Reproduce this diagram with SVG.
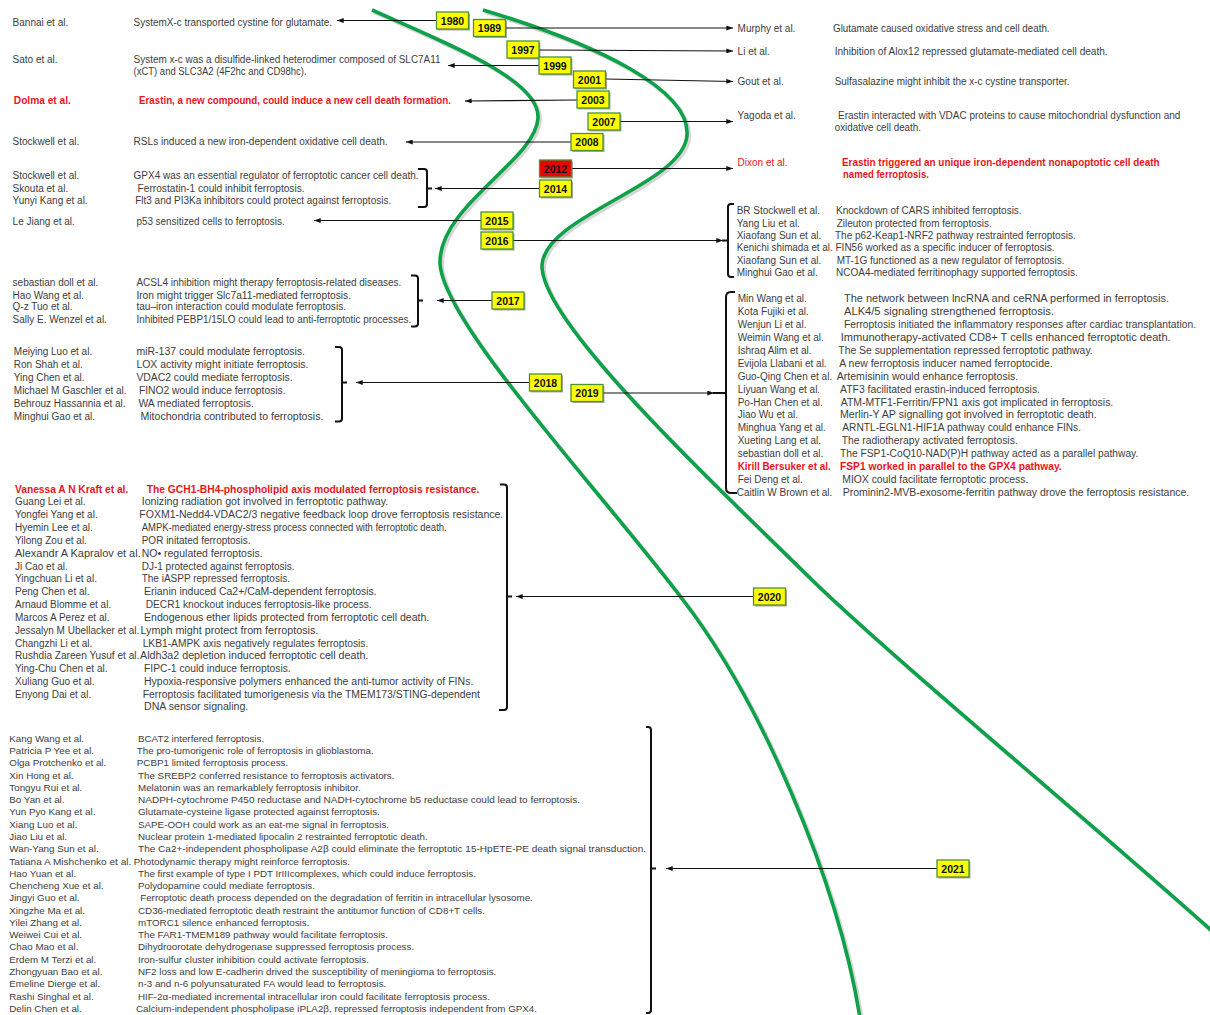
<svg xmlns="http://www.w3.org/2000/svg" width="1210" height="1015" viewBox="0 0 1210 1015">
<defs>
<style>
text{font-family:"Liberation Sans",Arial,sans-serif;font-size:10px;fill:#3d3d3d}
.r{fill:#e8151d;font-weight:bold}
.rn{fill:#e8151d}
.s{font-size:9.8px}
.m{font-size:10px}
.yt{font-weight:bold;font-size:10.5px;fill:#111;text-anchor:middle}
.box{fill:#ffff00;stroke:#4e8f3a;stroke-width:1.3}
.red{fill:#ee0000;stroke:#4e8f3a;stroke-width:1.3}
.sh{fill:#555;opacity:.5}
.ln{stroke:#111;stroke-width:1.2;fill:none;marker-end:url(#ah)}
.br{stroke:#111;stroke-width:2;fill:none}
.g{stroke:#0fa14a;stroke-width:3.6;fill:none}
.gs{stroke:#999;stroke-width:4;fill:none;opacity:.4}
</style>
<marker id="ah" viewBox="0 0 8 6" refX="8" refY="3" markerWidth="7" markerHeight="5" markerUnits="userSpaceOnUse" orient="auto"><path d="M0,0 L8,3 L0,6 z" fill="#111"/></marker>
</defs>
<rect width="1210" height="1015" fill="#fff"/>

<g id="curves">
<path class="gs" transform="translate(2,2)" d="M372,10 C450,45 540,80 538,118 C536,160 440,205 440,262 C440,320 600,490 683,600 C760,700 838,880 860,1018"/>
<path class="gs" transform="translate(2,2)" d="M483,10 C600,45 690,90 687,135 C684,185 545,215 542,265 C540,320 700,470 812,580 C900,665 1100,830 1222,940"/>
<path class="g" d="M372,10 C450,45 540,80 538,118 C536,160 440,205 440,262 C440,320 600,490 683,600 C760,700 838,880 860,1018"/>
<path class="g" d="M483,10 C600,45 690,90 687,135 C684,185 545,215 542,265 C540,320 700,470 812,580 C900,665 1100,830 1222,940"/>
</g>

<g id="connectors">
<path class="ln" d="M436.5,20.5 H337"/>
<path class="ln" d="M505.5,28 H733"/>
<path class="ln" d="M539,50 L733,51"/>
<path class="ln" d="M539,65.5 H448"/>
<path class="ln" d="M605.5,79 L733,81.5"/>
<path class="ln" d="M577,100 L465,101"/>
<path class="ln" d="M620,121.5 H733"/>
<path class="ln" d="M571,142 H406"/>
<path class="ln" d="M571.5,168.5 H733"/>
<path class="ln" d="M539.5,188.5 H435"/>
<path class="ln" d="M481,220.5 H314"/>
<path class="ln" d="M513,240.5 H723"/>
<path class="ln" d="M492,300.5 H437"/>
<path class="ln" d="M529.5,382.5 H356"/>
<path class="ln" d="M603,393 H714"/>
<path class="ln" d="M753.5,596.5 H516"/>
<path class="ln" d="M937,868.5 H666"/>
<path class="br" d="M418,169 H424 Q427,169 427,172 V204 Q427,207 424,207 H418 M427,188.5 H432"/>
<path class="br" d="M411,275.5 H415 Q418,275.5 418,278.5 V323.5 Q418,326.5 415,326.5 H411 M418,300.5 H423"/>
<path class="br" d="M335,347 H339 Q342,347 342,350 V418.5 Q342,421.5 339,421.5 H335 M342,382.5 H347"/>
<path class="br" d="M734,204 H731 Q728,204 728,207 V274 Q728,277 731,277 H734 M722,240.5 H728"/>
<path class="br" d="M735,292 H731 Q726,292 726,297 V488 Q726,493 731,493 H737 M713,393 H726"/>
<path class="br" d="M500,484.5 H504 Q507,484.5 507,487.5 V707 Q507,710 504,710 H499 M507,596.5 H512"/>
<path class="br" d="M646,727 H648 Q651,727 651,730 V1010 Q651,1013 648,1013 H646 M651,868.5 H656"/>
</g>

<g id="y1980"><rect class="sh" x="438" y="13.5" width="32" height="17"/><rect class="box" x="436.5" y="12" width="32" height="17"/><text class="yt" x="452.5" y="24.5">1980</text></g>
<g id="y1989"><rect class="sh" x="475" y="21" width="32" height="17"/><rect class="box" x="473.5" y="19.5" width="32" height="17"/><text class="yt" x="489.5" y="32">1989</text></g>
<g id="y1997"><rect class="sh" x="508.5" y="42.5" width="32" height="17"/><rect class="box" x="507" y="41" width="32" height="17"/><text class="yt" x="523" y="53.5">1997</text></g>
<g id="y1999"><rect class="sh" x="540.5" y="58.5" width="32" height="17"/><rect class="box" x="539" y="57" width="32" height="17"/><text class="yt" x="555" y="69.5">1999</text></g>
<g id="y2001"><rect class="sh" x="575" y="72.5" width="32" height="17"/><rect class="box" x="573.5" y="71" width="32" height="17"/><text class="yt" x="589.5" y="83.5">2001</text></g>
<g id="y2003"><rect class="sh" x="578.5" y="92.5" width="32" height="17"/><rect class="box" x="577" y="91" width="32" height="17"/><text class="yt" x="593" y="103.5">2003</text></g>
<g id="y2007"><rect class="sh" x="589.5" y="114.5" width="32" height="17"/><rect class="box" x="588" y="113" width="32" height="17"/><text class="yt" x="604" y="125.5">2007</text></g>
<g id="y2008"><rect class="sh" x="572.5" y="135" width="32" height="17"/><rect class="box" x="571" y="133.5" width="32" height="17"/><text class="yt" x="587" y="146">2008</text></g>
<g id="y2012"><rect class="sh" x="541" y="161.5" width="32" height="17"/><rect class="red" x="539.5" y="160" width="32" height="17"/><text class="yt" x="555.5" y="172.5">2012</text></g>
<g id="y2014"><rect class="sh" x="541" y="181.5" width="32" height="17"/><rect class="box" x="539.5" y="180" width="32" height="17"/><text class="yt" x="555.5" y="192.5">2014</text></g>
<g id="y2015"><rect class="sh" x="482.5" y="213.5" width="32" height="17"/><rect class="box" x="481" y="212" width="32" height="17"/><text class="yt" x="497" y="224.5">2015</text></g>
<g id="y2016"><rect class="sh" x="482.5" y="233.5" width="32" height="17"/><rect class="box" x="481" y="232" width="32" height="17"/><text class="yt" x="497" y="244.5">2016</text></g>
<g id="y2017"><rect class="sh" x="493.5" y="293.5" width="32" height="17"/><rect class="box" x="492" y="292" width="32" height="17"/><text class="yt" x="508" y="304.5">2017</text></g>
<g id="y2018"><rect class="sh" x="531" y="375.5" width="32" height="17"/><rect class="box" x="529.5" y="374" width="32" height="17"/><text class="yt" x="545.5" y="386.5">2018</text></g>
<g id="y2019"><rect class="sh" x="572.5" y="386" width="32" height="17"/><rect class="box" x="571" y="384.5" width="32" height="17"/><text class="yt" x="587" y="397">2019</text></g>
<g id="y2020"><rect class="sh" x="755" y="589.5" width="32" height="17"/><rect class="box" x="753.5" y="588" width="32" height="17"/><text class="yt" x="769.5" y="600.5">2020</text></g>
<g id="y2021"><rect class="sh" x="938.5" y="861.5" width="32" height="17"/><rect class="box" x="937" y="860" width="32" height="17"/><text class="yt" x="953" y="872.5">2021</text></g>

<g id="e1980"><text x="12.6" y="26">Bannai et al.</text><text x="133.6" y="26" textLength="198.5" lengthAdjust="spacingAndGlyphs">SystemX-c transported cystine for glutamate.</text></g>
<g id="e1989"><text x="737.6" y="31.8">Murphy et al.</text><text x="833" y="31.8" textLength="216.6" lengthAdjust="spacingAndGlyphs">Glutamate caused oxidative stress and cell death.</text></g>
<g id="e1997"><text x="737.6" y="55.2">Li et al.</text><text x="834.7" y="55.2" textLength="273" lengthAdjust="spacingAndGlyphs">Inhibition of Alox12 repressed glutamate-mediated cell death.</text></g>
<g id="e1999"><text x="12.6" y="63">Sato et al.</text><text x="133.6" y="63" textLength="307" lengthAdjust="spacingAndGlyphs">System x-c was a disulfide-linked heterodimer composed of SLC7A11</text><text x="133.6" y="75" textLength="173" lengthAdjust="spacingAndGlyphs">(xCT) and SLC3A2 (4F2hc and CD98hc).</text></g>
<g id="e2001"><text x="737.6" y="85.2">Gout et al.</text><text x="834.7" y="85.2" textLength="234.8" lengthAdjust="spacingAndGlyphs">Sulfasalazine might inhibit the x-c cystine transporter.</text></g>
<g id="e2003"><text class="r" x="13.8" y="104.2" textLength="57" lengthAdjust="spacingAndGlyphs">Dolma et al.</text><text class="r" x="139" y="104.2" textLength="312" lengthAdjust="spacingAndGlyphs">Erastin, a new compound, could induce a new cell death formation.</text></g>
<g id="e2007"><text x="737.6" y="118.5">Yagoda et al.</text><text x="838" y="118.5" textLength="342.3" lengthAdjust="spacingAndGlyphs">Erastin interacted with VDAC proteins to cause mitochondrial dysfunction and</text><text x="834.7" y="130.8" textLength="86.3" lengthAdjust="spacingAndGlyphs">oxidative cell death.</text></g>
<g id="e2008"><text x="12.6" y="145.2">Stockwell et al.</text><text x="133.6" y="145.2" textLength="254" lengthAdjust="spacingAndGlyphs">RSLs induced a new iron-dependent oxidative cell death.</text></g>
<g id="e2012"><text class="rn" x="737.6" y="166.2">Dixon et al.</text><text class="r" x="842" y="166.2" textLength="317.6" lengthAdjust="spacingAndGlyphs">Erastin triggered an unique iron-dependent nonapoptotic cell death</text><text class="r" x="843" y="177.8" textLength="86" lengthAdjust="spacingAndGlyphs">named ferroptosis.</text></g>
<g id="e2014"><text x="12.6" y="178.5">Stockwell et al.</text><text x="133.6" y="178.5" textLength="285" lengthAdjust="spacingAndGlyphs">GPX4 was an essential regulator of ferroptotic cancer cell death.</text><text x="12.6" y="191.8">Skouta et al.</text><text x="137.6" y="191.8" textLength="167" lengthAdjust="spacingAndGlyphs">Ferrostatin-1 could inhibit ferroptosis.</text><text x="12.6" y="204.2">Yunyi Kang et al.</text><text x="135.2" y="204.2" textLength="256" lengthAdjust="spacingAndGlyphs">Flt3 and PI3Ka inhibitors could protect against ferroptosis.</text></g>
<g id="e2015"><text x="12.6" y="225.2">Le Jiang et al.</text><text x="136.4" y="225.2" textLength="148.3" lengthAdjust="spacingAndGlyphs">p53 sensitized cells to ferroptosis.</text></g>
<g id="e2016">
<text class="m" x="736.7" y="214.2">BR Stockwell et al.</text><text class="m" x="836" y="214.2">Knockdown of CARS inhibited ferroptosis.</text>
<text class="m" x="736.7" y="226.6">Yang Liu et al.</text><text class="m" x="836.7" y="226.6">Zileuton protected from ferroptosis.</text>
<text class="m" x="736.7" y="239">Xiaofang Sun et al.</text><text class="m" x="835" y="239">The p62-Keap1-NRF2 pathway restrainted ferroptosis.</text>
<text class="m" x="736.7" y="251.4" textLength="96" lengthAdjust="spacingAndGlyphs">Kenichi shimada et al.</text><text class="m" x="835.5" y="251.4">FIN56 worked as a specific inducer of ferroptosis.</text>
<text class="m" x="736.7" y="263.8">Xiaofang Sun et al.</text><text class="m" x="836.7" y="263.8">MT-1G functioned as a new regulator of ferroptosis.</text>
<text class="m" x="736.7" y="276.2">Minghui Gao et al.</text><text class="m" x="836" y="276.2">NCOA4-mediated ferritinophagy supported ferroptosis.</text>
</g>
<g id="e2017">
<text x="12.6" y="286.2">sebastian doll et al.</text><text x="136.4" y="286.2" textLength="265" lengthAdjust="spacingAndGlyphs">ACSL4 inhibition might therapy ferroptosis-related diseases.</text>
<text x="12.6" y="298.5">Hao Wang et al.</text><text x="136.4" y="298.5" textLength="214.6" lengthAdjust="spacingAndGlyphs">Iron might trigger Slc7a11-mediated ferroptosis.</text>
<text x="12.6" y="310.2">Q-z Tuo et al.</text><text x="136.4" y="310.2" textLength="209.6" lengthAdjust="spacingAndGlyphs">tau–iron interaction could modulate ferroptosis.</text>
<text x="12.6" y="322.8">Sally E. Wenzel et al.</text><text x="136.4" y="322.8" textLength="274.8" lengthAdjust="spacingAndGlyphs">Inhibited PEBP1/15LO could lead to anti-ferroptotic processes.</text>
</g>
<g id="e2018">
<text x="13.8" y="355.2">Meiying Luo et al.</text><text x="136.4" y="355.2" textLength="168.6" lengthAdjust="spacingAndGlyphs">miR-137 could modulate ferroptosis.</text>
<text x="13.8" y="367.5">Ron Shah et al.</text><text x="136.4" y="367.5" textLength="172" lengthAdjust="spacingAndGlyphs">LOX activity might initiate ferroptosis.</text>
<text x="13.8" y="380.8">Ying Chen et al.</text><text x="136.4" y="380.8" textLength="156.2" lengthAdjust="spacingAndGlyphs">VDAC2 could mediate ferroptosis.</text>
<text x="13.8" y="393.5">Michael M Gaschler et al.</text><text x="139" y="393.5" textLength="146.5" lengthAdjust="spacingAndGlyphs">FINO2 would induce ferroptosis.</text>
<text x="13.8" y="406.8">Behrouz Hassannia et al.</text><text x="138.4" y="406.8" textLength="115.5" lengthAdjust="spacingAndGlyphs">WA mediated ferroptosis.</text>
<text x="13.8" y="420.2">Minghui Gao et al.</text><text x="140.4" y="420.2" textLength="183" lengthAdjust="spacingAndGlyphs">Mitochondria contributed to ferroptosis.</text>
</g>
<g id="e2019">
<text x="737.7" y="301.8">Min Wang et al.</text><text x="844" y="301.8" textLength="325" lengthAdjust="spacingAndGlyphs">The network between lncRNA and ceRNA performed in ferroptosis.</text>
<text x="737.7" y="314.8">Kota Fujiki et al.</text><text x="844" y="314.8" textLength="210" lengthAdjust="spacingAndGlyphs">ALK4/5 signaling strengthened ferroptosis.</text>
<text x="737.7" y="327.7">Wenjun Li et al.</text><text x="844" y="327.7" textLength="352" lengthAdjust="spacingAndGlyphs">Ferroptosis initiated the inflammatory responses after cardiac transplantation.</text>
<text x="737.7" y="340.7">Weimin Wang et al.</text><text x="840.7" y="340.7" textLength="330" lengthAdjust="spacingAndGlyphs">Immunotherapy-activated CD8+ T cells enhanced ferroptotic death.</text>
<text x="737.7" y="353.6">Ishraq Alim et al.</text><text x="838.3" y="353.6" textLength="254.4" lengthAdjust="spacingAndGlyphs">The Se supplementation repressed ferroptotic pathway.</text>
<text x="737.7" y="366.6">Evijola Llabani et al.</text><text x="839.3" y="366.6" textLength="213.4" lengthAdjust="spacingAndGlyphs">A new ferroptosis inducer named ferroptocide.</text>
<text x="737.7" y="379.6">Guo-Qing Chen et al.</text><text x="836.7" y="379.6" textLength="181.6" lengthAdjust="spacingAndGlyphs">Artemisinin would enhance ferroptosis.</text>
<text x="737.7" y="392.5">Liyuan Wang et al.</text><text x="840" y="392.5" textLength="200" lengthAdjust="spacingAndGlyphs">ATF3 facilitated erastin-induced ferroptosis.</text>
<text x="737.7" y="405.5">Po-Han Chen et al.</text><text x="840.7" y="405.5" textLength="272.6" lengthAdjust="spacingAndGlyphs">ATM-MTF1-Ferritin/FPN1 axis got implicated in ferroptosis.</text>
<text x="737.7" y="418.4">Jiao Wu et al.</text><text x="840" y="418.4" textLength="256.7" lengthAdjust="spacingAndGlyphs">Merlin-Y AP signalling got involved in ferroptotic death.</text>
<text x="737.7" y="431.4">Minghua Yang et al.</text><text x="842.3" y="431.4" textLength="238.7" lengthAdjust="spacingAndGlyphs">ARNTL-EGLN1-HIF1A pathway could enhance FINs.</text>
<text x="737.7" y="444.4">Xueting Lang et al.</text><text x="841.7" y="444.4" textLength="176" lengthAdjust="spacingAndGlyphs">The radiotherapy activated ferroptosis.</text>
<text x="737.7" y="457.3">sebastian doll et al.</text><text x="840" y="457.3" textLength="298.3" lengthAdjust="spacingAndGlyphs">The FSP1-CoQ10-NAD(P)H pathway acted as a parallel pathway.</text>
<text class="r" x="737.7" y="470.3" textLength="93" lengthAdjust="spacingAndGlyphs">Kirill Bersuker et al.</text><text class="r" x="840" y="470.3" textLength="221.7" lengthAdjust="spacingAndGlyphs">FSP1 worked in parallel to the GPX4 pathway.</text>
<text x="737.7" y="483.2">Fei Deng et al.</text><text x="842.3" y="483.2" textLength="186" lengthAdjust="spacingAndGlyphs">MIOX could facilitate ferroptotic process.</text>
<text x="736.7" y="496.2">Caitlin W Brown et al.</text><text x="842.7" y="496.2" textLength="346.6" lengthAdjust="spacingAndGlyphs">Prominin2-MVB-exosome-ferritin pathway drove the ferroptosis resistance.</text>
</g>
<g id="e2020">
<text class="r" x="15" y="492.5" textLength="113.3" lengthAdjust="spacingAndGlyphs">Vanessa A N Kraft et al.</text><text class="r" x="146.7" y="492.5" textLength="332.6" lengthAdjust="spacingAndGlyphs">The GCH1-BH4-phospholipid axis modulated ferroptosis resistance.</text>
<text x="15" y="505.3">Guang Lei et al.</text><text x="141.7" y="505.3" textLength="246.6" lengthAdjust="spacingAndGlyphs">Ionizing radiation got involved in ferroptotic pathway.</text>
<text x="15" y="518.2">Yongfei Yang et al.</text><text x="139.3" y="518.2" textLength="364" lengthAdjust="spacingAndGlyphs">FOXM1-Nedd4-VDAC2/3 negative feedback loop drove ferroptosis resistance.</text>
<text x="15" y="531">Hyemin Lee et al.</text><text x="141.7" y="531" textLength="305" lengthAdjust="spacingAndGlyphs">AMPK-mediated energy-stress process connected with ferroptotic death.</text>
<text x="15" y="543.8">Yilong Zou et al.</text><text x="141.7" y="543.8">POR initated ferroptosis.</text>
<text x="15" y="556.7" textLength="125.7" lengthAdjust="spacingAndGlyphs">Alexandr A Kapralov et al.</text><text x="141.7" y="556.7" textLength="121" lengthAdjust="spacingAndGlyphs">NO• regulated ferroptosis.</text>
<text x="15" y="569.5">Ji Cao et al.</text><text x="141.7" y="569.5">DJ-1 protected against ferroptosis.</text>
<text x="15" y="582.3">Yingchuan Li et al.</text><text x="141.7" y="582.3">The iASPP repressed ferroptosis.</text>
<text x="15" y="595.1">Peng Chen et al.</text><text x="144" y="595.1" textLength="232.7" lengthAdjust="spacingAndGlyphs">Erianin induced Ca2+/CaM-dependent ferroptosis.</text>
<text x="15" y="608">Arnaud Blomme et al.</text><text x="145.7" y="608" textLength="226" lengthAdjust="spacingAndGlyphs">DECR1 knockout induces ferroptosis-like process.</text>
<text x="15" y="620.8">Marcos A Perez et al.</text><text x="144" y="620.8" textLength="285.3" lengthAdjust="spacingAndGlyphs">Endogenous ether lipids protected from ferroptotic cell death.</text>
<text x="15" y="633.6" textLength="124.3" lengthAdjust="spacingAndGlyphs">Jessalyn M Ubellacker et al.</text><text x="140.5" y="633.6" textLength="177.8" lengthAdjust="spacingAndGlyphs">Lymph might protect from ferroptosis.</text>
<text x="15" y="646.5">Changzhi Li et al.</text><text x="142.7" y="646.5" textLength="225.6" lengthAdjust="spacingAndGlyphs">LKB1-AMPK axis negatively regulates ferroptosis.</text>
<text x="15" y="659.3" textLength="124.3" lengthAdjust="spacingAndGlyphs">Rushdia Zareen Yusuf et al.</text><text x="140" y="659.3" textLength="228.3" lengthAdjust="spacingAndGlyphs">Aldh3a2 depletion induced ferroptotic cell death.</text>
<text x="15" y="672.1">Ying-Chu Chen et al.</text><text x="144" y="672.1" textLength="146.7" lengthAdjust="spacingAndGlyphs">FIPC-1 could induce ferroptosis.</text>
<text x="15" y="685">Xuliang Guo et al.</text><text x="144" y="685" textLength="329.3" lengthAdjust="spacingAndGlyphs">Hypoxia-responsive polymers enhanced the anti-tumor activity of FINs.</text>
<text x="15" y="697.8">Enyong Dai et al.</text><text x="142.7" y="697.8" textLength="337.3" lengthAdjust="spacingAndGlyphs">Ferroptosis facilitated tumorigenesis via the TMEM173/STING-dependent</text>
<text x="144" y="710.2" textLength="104.3" lengthAdjust="spacingAndGlyphs">DNA sensor signaling.</text>
</g>
<g id="e2021">
<text class="s" x="9.3" y="741.8">Kang Wang et al.</text><text class="s" x="138" y="741.8">BCAT2 interfered ferroptosis.</text>
<text class="s" x="9.3" y="754.1">Patricia P Yee et al.</text><text class="s" x="136.8" y="754.1">The pro-tumorigenic role of ferroptosis in glioblastoma.</text>
<text class="s" x="9.3" y="766.3">Olga Protchenko et al.</text><text class="s" x="136.8" y="766.3">PCBP1 limited ferroptosis process.</text>
<text class="s" x="9.3" y="778.6">Xin Hong et al.</text><text class="s" x="138" y="778.6">The SREBP2 conferred resistance to ferroptosis activators.</text>
<text class="s" x="9.3" y="790.9">Tongyu Rui et al.</text><text class="s" x="138" y="790.9">Melatonin was an remarkablely ferroptosis inhibitor.</text>
<text class="s" x="9.3" y="803.2">Bo Yan et al.</text><text class="s" x="138" y="803.2" textLength="442" lengthAdjust="spacingAndGlyphs">NADPH-cytochrome P450 reductase and NADH-cytochrome b5 reductase could lead to ferroptosis.</text>
<text class="s" x="9.3" y="815.4">Yun Pyo Kang et al.</text><text class="s" x="138" y="815.4">Glutamate-cysteine ligase protected against ferroptosis.</text>
<text class="s" x="9.3" y="827.7">Xiang Luo et al.</text><text class="s" x="138" y="827.7">SAPE-OOH could work as an eat-me signal in ferroptosis.</text>
<text class="s" x="9.3" y="840">Jiao Liu et al.</text><text class="s" x="138" y="840">Nuclear protein 1-mediated lipocalin 2 restrainted ferroptotic death.</text>
<text class="s" x="9.3" y="852.2">Wan-Yang Sun et al.</text><text class="s" x="138" y="852.2" textLength="508" lengthAdjust="spacingAndGlyphs">The Ca2+-independent phospholipase A2β could eliminate the ferroptotic 15-HpETE-PE death signal transduction.</text>
<text class="s" x="9.3" y="864.5" textLength="122" lengthAdjust="spacingAndGlyphs">Tatiana A Mishchenko et al.</text><text class="s" x="133.8" y="864.5">Photodynamic therapy might reinforce ferroptosis.</text>
<text class="s" x="9.3" y="876.8">Hao Yuan et al.</text><text class="s" x="138" y="876.8">The first example of type I PDT IrIIIcomplexes, which could induce ferroptosis.</text>
<text class="s" x="9.3" y="889.1">Chencheng Xue et al.</text><text class="s" x="138" y="889.1">Polydopamine could mediate ferroptosis.</text>
<text class="s" x="9.3" y="901.3">Jingyi Guo et al.</text><text class="s" x="140.2" y="901.3">Ferroptotic death process depended on the degradation of ferritin in intracellular lysosome.</text>
<text class="s" x="9.3" y="913.6">Xingzhe Ma et al.</text><text class="s" x="138" y="913.6">CD36-mediated ferroptotic death restraint the antitumor function of CD8+T cells.</text>
<text class="s" x="9.3" y="925.9">Yilei Zhang et al.</text><text class="s" x="138" y="925.9">mTORC1 silence enhanced ferroptosis.</text>
<text class="s" x="9.3" y="938.1">Weiwei Cui et al.</text><text class="s" x="138" y="938.1">The FAR1-TMEM189 pathway would facilitate ferroptosis.</text>
<text class="s" x="9.3" y="950.4">Chao Mao et al.</text><text class="s" x="138" y="950.4">Dihydroorotate dehydrogenase suppressed ferroptosis process.</text>
<text class="s" x="9.3" y="962.7">Erdem M Terzi et al.</text><text class="s" x="138" y="962.7">Iron-sulfur cluster inhibition could activate ferroptosis.</text>
<text class="s" x="9.3" y="975">Zhongyuan Bao et al.</text><text class="s" x="138" y="975">NF2 loss and low E-cadherin drived the susceptibility of meningioma to ferroptosis.</text>
<text class="s" x="9.3" y="987.2">Emeline Dierge et al.</text><text class="s" x="138" y="987.2">n-3 and n-6 polyunsaturated FA would lead to ferroptosis.</text>
<text class="s" x="9.3" y="999.5">Rashi Singhal et al.</text><text class="s" x="138" y="999.5">HIF-2α-mediated incremental intracellular iron could facilitate ferroptosis process.</text>
<text class="s" x="9.3" y="1011.8">Delin Chen et al.</text><text class="s" x="136" y="1011.8">Calcium-independent phospholipase iPLA2β, repressed ferroptosis independent from GPX4.</text>
</g>
</svg>
